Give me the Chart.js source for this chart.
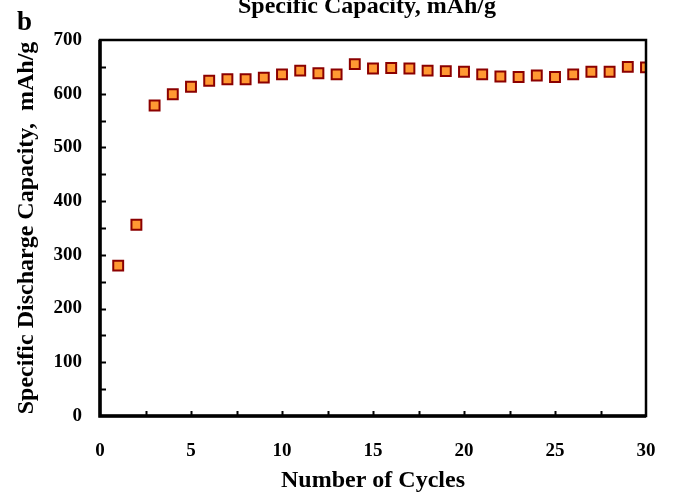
<!DOCTYPE html>
<html>
<head>
<meta charset="utf-8">
<script src="https://cdn.jsdelivr.net/npm/chart.js@4/dist/chart.umd.min.js"></script>
<style>
  html, body { margin: 0; padding: 0; background: #fff; }
  #wrap { width: 675px; height: 493px; }
</style>
</head>
<body>
<div id="wrap"><canvas id="capChart" width="675" height="493"></canvas></div>
<script>
// data
const cycles = [1, 2, 3, 4, 5, 6, 7, 8, 9, 10, 11, 12, 13, 14, 15,
                16, 17, 18, 19, 20, 21, 22, 23, 24, 25, 26, 27, 28, 29, 30];
const capacity = [280, 356, 578, 599, 613, 624, 627, 627, 630, 636, 643, 638, 636, 655, 647,
                  648, 647, 643, 642, 641, 636, 632, 631, 634, 631, 636, 641, 641, 650, 649];
const xTicks = [0, 5, 10, 15, 20, 25, 30];
const yTicks = [0, 100, 200, 300, 400, 500, 600, 700];

const serif = "'Liberation Serif', 'Times New Roman', serif";

// box frame, inward tick marks and the texts outside the axes
const framePlugin = {
    id: 'frame',
    afterDraw(chart) {
        const ctx = chart.ctx;
        const a = chart.chartArea;
        const xs = chart.scales.x, ys = chart.scales.y;
        ctx.save();
        ctx.strokeStyle = '#000';
        ctx.lineWidth = 2;
        // minor + major ticks, pointing inside
        for (let v = xTicks[0] + 2.5; v < xTicks[xTicks.length - 1]; v += 2.5) {
            const px = Math.round(xs.getPixelForValue(v)) + 0.5;
            ctx.beginPath();
            ctx.moveTo(px, a.bottom);
            ctx.lineTo(px, a.bottom - 5);
            ctx.stroke();
        }
        for (let v = yTicks[0] + 50; v < yTicks[yTicks.length - 1]; v += 50) {
            const py = Math.round(ys.getPixelForValue(v)) + 0.5;
            ctx.beginPath();
            ctx.moveTo(a.left, py);
            ctx.lineTo(a.left + 6, py);
            ctx.stroke();
        }
        // box: thin top/right, heavier left/bottom
        ctx.lineWidth = 2.5;
        ctx.strokeRect(a.left, a.top, a.right - a.left, a.bottom - a.top);
        ctx.lineWidth = 3.5;
        ctx.beginPath();
        ctx.moveTo(a.left, a.top);
        ctx.lineTo(a.left, a.bottom);
        ctx.lineTo(a.right, a.bottom);
        ctx.stroke();

        ctx.fillStyle = '#000';
        ctx.textBaseline = 'alphabetic';
        ctx.textAlign = 'center';
        ctx.font = 'bold 24px ' + serif;
        ctx.fillText('Specific Capacity, mAh/g', 367, 13);
        ctx.textAlign = 'left';
        ctx.font = 'bold 27px ' + serif;
        ctx.fillText('b', 17, 30);
        ctx.restore();
    }
};

const ctx = document.getElementById('capChart').getContext('2d');
const capChart = new Chart(ctx, {
    type: 'scatter',
    data: {
        datasets: [{
            label: 'Specific Discharge Capacity',
            data: cycles.map((c, i) => ({ x: c, y: capacity[i] })),
            pointStyle: 'rect',
            pointRadius: 7,
            pointBorderWidth: 2,
            backgroundColor: 'rgb(255, 153, 51)',
            borderColor: 'rgb(139, 0, 0)'
        }]
    },
    options: {
        responsive: false,
        animation: false,
        layout: { padding: { top: 40, right: 29, left: 0, bottom: 0 } },
        plugins: {
            legend: { display: false },
            tooltip: { enabled: false }
        },
        scales: {
            x: {
                type: 'linear',
                min: 0,
                max: 30,
                afterFit: (s) => { s.height = 77; s.paddingLeft = 0; s.paddingRight = 0; },
                afterBuildTicks: (s) => { s.ticks = xTicks.map(v => ({ value: v })); },
                grid: { display: false, drawTicks: false },
                border: { display: false },
                ticks: {
                    padding: 24,
                    color: '#000',
                    maxRotation: 0,
                    font: { family: serif, size: 19, weight: 'bold' }
                },
                title: {
                    display: true,
                    text: 'Number of Cycles',
                    color: '#000',
                    padding: { top: 0, bottom: 0 },
                    font: { family: serif, size: 24, weight: 'bold', lineHeight: 1.0 }
                }
            },
            y: {
                min: 0,
                max: 700,
                afterFit: (s) => { s.width = 100; },
                afterBuildTicks: (s) => { s.ticks = yTicks.map(v => ({ value: v })); },
                grid: { display: false, drawTicks: false },
                border: { display: false },
                ticks: {
                    padding: 18,
                    color: '#000',
                    font: { family: serif, size: 19, weight: 'bold' }
                },
                title: {
                    display: true,
                    text: 'Specific Discharge Capacity,  mAh/g',
                    color: '#000',
                    padding: { top: 15, bottom: 0 },
                    font: { family: serif, size: 24, weight: 'bold', lineHeight: 1.0 }
                }
            }
        }
    },
    plugins: [framePlugin]
});
</script>
</body>
</html>
